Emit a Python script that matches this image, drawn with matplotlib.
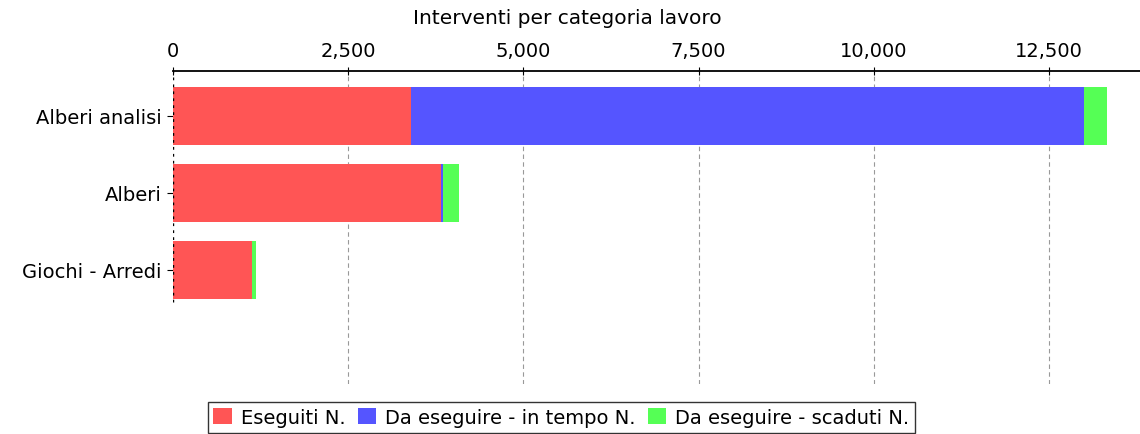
import numpy as np
import matplotlib
matplotlib.use("Agg")
import matplotlib.pyplot as plt
from matplotlib.ticker import FuncFormatter

# data
categories = ["Alberi analisi", "Alberi", "Giochi - Arredi"]
eseguiti = [3400, 3820, 1120]
in_tempo = [9600, 30, 5]
scaduti = [330, 230, 65]
series_names = ["Eseguiti N.", "Da eseguire - in tempo N.", "Da eseguire - scaduti N."]
colors = ["#FF5555", "#5555FF", "#55FF55"]
ticks = [0, 2500, 5000, 7500, 10000, 12500]

fig = plt.figure(figsize=(11.4, 4.35), dpi=100)
ax = fig.add_axes([0.1518, 0.115, 0.8482, 0.7195])

y = np.arange(len(categories))
left = np.zeros(len(categories))
for vals, name, c in zip([eseguiti, in_tempo, scaduti], series_names, colors):
    ax.barh(y, vals, left=left, height=0.75, color=c, label=name, zorder=2)
    left += np.array(vals)

ax.set_xlim(0, 13800)
ax.set_ylim(3.48, -0.58)
ax.set_yticks(y)
ax.set_yticklabels(categories, fontsize=14)
ax.set_xticks(ticks)
ax.xaxis.set_major_formatter(FuncFormatter(lambda v, p: f"{int(v):,}"))
ax.xaxis.tick_top()
ax.tick_params(axis="x", labelsize=14, direction="inout", length=6, pad=5)
ax.tick_params(axis="y", length=4, pad=4)

# axis title centred on the figure, as in the reference
fig.text(0.498, 0.958, "Interventi per categoria lavoro", ha="center", va="center", fontsize=14.5)

for s in ["left", "right", "bottom"]:
    ax.spines[s].set_visible(False)
ax.spines["top"].set_linewidth(1.3)

# dashed grid lines
for t in ticks[1:]:
    ax.axvline(t, color="#999999", linestyle=(0, (4, 3)), linewidth=0.8, zorder=1)
# dashed black zero line over the category span
ylo, yhi = ax.get_ylim()
frac = (ylo - (len(categories) - 1 + 0.42)) / (ylo - yhi)
ax.axvline(0, ymin=frac, ymax=1, color="black", linestyle=(0, (2, 3)), linewidth=1.0, zorder=3)

leg = fig.legend(loc="upper center", bbox_to_anchor=(0.4925, 0.0736), ncol=3,
                 fontsize=14, frameon=True, fancybox=False, edgecolor="black",
                 handlelength=0.93, handleheight=0.93, handletextpad=0.5,
                 columnspacing=0.6, borderpad=0.3, borderaxespad=0)
leg.get_frame().set_linewidth(1.0)

fig.savefig("out.png", dpi=100)
